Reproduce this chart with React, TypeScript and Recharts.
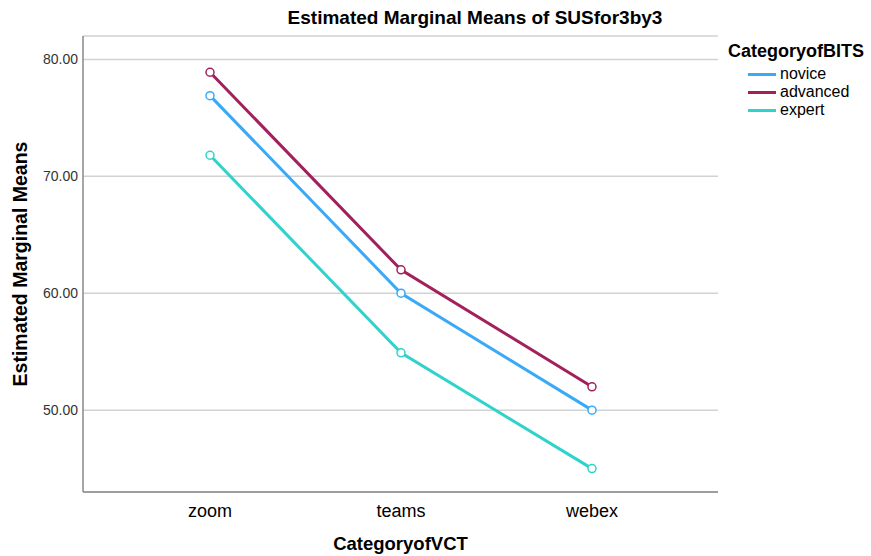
import { LineChart, Line, XAxis, YAxis, CartesianGrid, Legend, Label } from "recharts";

const categories = ["zoom", "teams", "webex"];
const novice = [76.9, 60.0, 50.0];
const advanced = [78.9, 62.0, 52.0];
const expert = [71.8, 54.9, 45.0];
const yTicks = [50, 60, 70, 80];

const seriesInfo = [
  { key: "novice", color: "#3aa9f7" },
  { key: "advanced", color: "#a2215c" },
  { key: "expert", color: "#2fd3cb" },
];

const data = categories.map((c, i) => ({
  cat: c,
  novice: novice[i],
  advanced: advanced[i],
  expert: expert[i],
}));

const FONT = '"Liberation Sans", Arial, sans-serif';

const LegendBox = () => (
  <div style={{ fontFamily: FONT, color: "#000" }}>
    <div style={{ fontSize: 18, fontWeight: "bold", lineHeight: "22px", marginBottom: 3 }}>CategoryofBITS</div>
    {seriesInfo.map((s) => (
      <div key={s.key} style={{ display: "flex", alignItems: "center", height: 18, paddingLeft: 20 }}>
        <span style={{ display: "inline-block", width: 28, height: 3, background: s.color, marginRight: 4 }} />
        <span style={{ fontSize: 16 }}>{s.key}</span>
      </div>
    ))}
  </div>
);

const YLabel = (props: any) => {
  const vb = props.viewBox || {};
  const cx = 20;
  const cy = vb.y + vb.height / 2;
  return (
    <text x={cx} y={cy} transform={`rotate(-90, ${cx}, ${cy})`} textAnchor="middle" dominantBaseline="central"
      fontFamily={FONT} fontSize={19.5} fontWeight="bold" fill="#000">
      Estimated Marginal Means
    </text>
  );
};

const App = () => {
  return (
    <div style={{ position: "absolute", left: 0, top: 0, width: 871, height: 556, background: "#fff" }}>
      <div style={{ position: "absolute", left: 0, top: 7, width: 950, textAlign: "center", fontFamily: FONT, fontSize: 19, fontWeight: "bold", color: "#000", zIndex: 2 }}>
        Estimated Marginal Means of SUSfor3by3
      </div>
      <LineChart width={871} height={556} data={data} margin={{ top: 36, right: 10, left: 0, bottom: 0 }}>
        <CartesianGrid horizontal vertical={false} stroke="#d2d2d2" strokeWidth={1.5} />
        <XAxis
          dataKey="cat"
          height={64}
          padding={{ left: 127, right: 126 }}
          tickLine={false}
          tickSize={0}
          tickMargin={12}
          stroke="#888"
          strokeWidth={1.5}
          tick={{ fill: "#000", fontSize: 18, fontFamily: FONT }}
        >
          <Label value="CategoryofVCT" position="insideBottom" offset={6} fill="#000" fontSize={18.5} fontWeight="bold" fontFamily={FONT} />
        </XAxis>
        <YAxis
          width={83}
          domain={[43, 82]}
          ticks={yTicks}
          tickFormatter={(v: number) => v.toFixed(2)}
          tickLine={false}
          tickSize={0}
          tickMargin={5}
          stroke="#888"
          strokeWidth={1.5}
          tick={{ fill: "#333", fontSize: 14, fontFamily: FONT }}
          label={<YLabel />}
        />
        <Legend
          verticalAlign="top"
          align="right"
          layout="vertical"
          content={<LegendBox />}
          wrapperStyle={{ left: 728, top: 40, width: 143 }}
        />
        {seriesInfo.map((s) => (
          <Line
            key={s.key}
            type="linear"
            dataKey={s.key}
            stroke={s.color}
            strokeWidth={3}
            dot={{ r: 4, stroke: s.color, strokeWidth: 1.5, fill: "#fff" }}
            activeDot={false}
            isAnimationActive={false}
          />
        ))}
      </LineChart>
    </div>
  );
};

export default App;
